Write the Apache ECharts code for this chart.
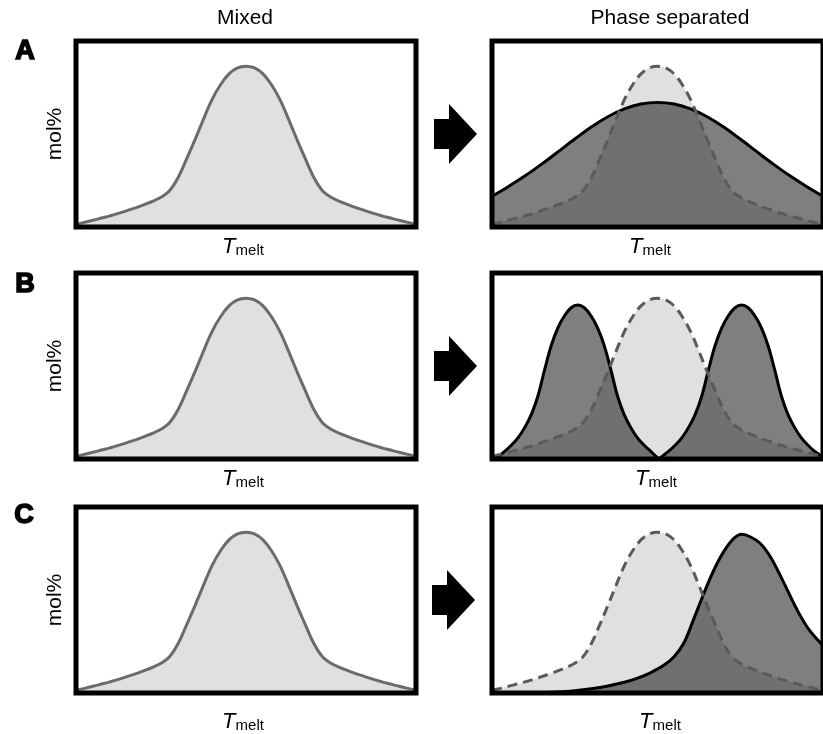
<!DOCTYPE html>
<html><head><meta charset="utf-8">
<script src="https://cdn.jsdelivr.net/npm/echarts@6/dist/echarts.min.js"></script>
<style>html,body{margin:0;padding:0;background:#fff}#c{width:823px;height:734px}</style>
</head><body><div id="c"></div><script>
// ---- data (x and y in arbitrary panel units 0..100) ----
const colTitles = ['Mixed', 'Phase separated'];
const rowLabels = ['A', 'B', 'C'];
const yLabel = 'mol%';
const xLabelMain = 'T';
const xLabelSub = 'melt';

// single mixed distribution (also drawn dashed in right panels)
const mixedX = [0, 2.5, 5, 7.5, 10, 12.5, 15, 17.5, 20, 22.5, 25, 27.5, 30, 32.5, 35, 37.5, 40, 42.5, 45, 47.5, 50,
                52.5, 55, 57.5, 60, 62.5, 65, 67.5, 70, 72.5, 75, 77.5, 80, 82.5, 85, 87.5, 90, 92.5, 95, 97.5, 100];
const mixedY = [1.5, 2.5, 3.6, 4.8, 6, 7.3, 8.8, 10.3, 12, 13.8, 16, 19.5, 26.5, 36.5, 47, 58, 68.5, 76.5, 82.3, 85.5, 86.4,
                85.5, 82.3, 76.5, 68.5, 58, 47, 36.5, 26.5, 19.5, 16, 13.8, 12, 10.3, 8.8, 7.3, 6, 4.8, 3.6, 2.5, 1.5];

// A: one broad distribution
const broadX = [0, 5, 10, 15, 20, 25, 30, 35, 40, 45, 50, 55, 60, 65, 70, 75, 80, 85, 90, 95, 100];
const broadY = [16.5, 21.8, 27.5, 33.8, 40.5, 47.3, 53.8, 59.3, 63.5, 66.1, 66.9, 66.1, 63.5, 59.3, 53.8, 47.3, 40.5, 33.8, 27.5, 21.8, 16.5];

// B: two narrow distributions
const lowX = [0, 1.9, 3.9, 5.9, 7.9, 9.9, 11.9, 13.9, 15.9, 17.9, 19.9, 21.9, 23.9, 25.9, 27.9, 29.9, 31.9, 33.9, 35.9, 37.9, 39.9, 41.9, 43.9, 45.9, 47.9, 50.4];
const lowY = [0.8, 1.5, 4.2, 7.5, 11.5, 17, 24, 34, 48, 61, 70.5, 77, 81.3, 82.8, 81.3, 77, 70.5, 61, 48, 34, 24, 17, 11.5, 7.5, 4.2, 0];
const highX = [50.4, 53.4, 55.4, 57.4, 59.4, 61.4, 63.4, 65.4, 67.4, 69.4, 71.4, 73.4, 75.4, 77.4, 79.4, 81.4, 83.4, 85.4, 87.4, 89.4, 91.4, 93.4, 95.4, 97.4, 100];
const highY = [0, 4.2, 7.5, 11.5, 17, 24, 34, 48, 61, 70.5, 77, 81.3, 82.8, 81.3, 77, 70.5, 61, 48, 34, 24, 17, 11.5, 7.5, 4.2, 1.2];

// C: shifted distribution
const shiftX = [0, 10, 20, 25, 30, 35, 40, 44, 48, 52, 55, 58, 61, 64, 67, 70, 73, 75.5, 78, 81, 84, 87, 90, 93, 96, 100];
const shiftY = [0, 0.1, 0.5, 1.2, 2.3, 3.8, 5.8, 8, 11, 15, 19.5, 27, 40, 53.5, 66, 76, 83, 85.3, 84, 80.5, 73.5, 63.5, 52.5, 42, 33.5, 25.5];

const pairs = (xs, ys) => xs.map((x, i) => [x, ys[i]]);

// ---- layout ----
const tops = [41, 273, 507];
const lefts = [76, 492];
const W = 340, H = 186;
const LIGHT = '#e0e0e0', DARK = 'rgba(0,0,0,0.5)';
const FONT = '"Liberation Sans", Arial, Helvetica, sans-serif';
const SM = 0.35;

const grids = [], xAxes = [], yAxes = [], series = [], graphics = [];
let gi = 0;
function addGrid(left, top) {
  grids.push({ left: left, top: top, width: W, height: H, show: true, borderColor: '#000', borderWidth: 5, backgroundColor: 'transparent', z: 10 });
  xAxes.push({ type: 'value', gridIndex: gi, min: 0, max: 100, show: false });
  yAxes.push({ type: 'value', gridIndex: gi, min: 0, max: 100, show: false });
  return gi++;
}
function mixedSolid(g) {
  series.push({ type: 'line', xAxisIndex: g, yAxisIndex: g, data: pairs(mixedX, mixedY), smooth: SM, symbol: 'none',
    lineStyle: { color: '#6b6b6b', width: 3 }, areaStyle: { color: LIGHT, opacity: 1 }, z: 2 });
}
function mixedUnder(g) {
  series.push({ type: 'line', xAxisIndex: g, yAxisIndex: g, data: pairs(mixedX, mixedY), smooth: SM, symbol: 'none',
    lineStyle: { width: 0, opacity: 0 }, areaStyle: { color: LIGHT, opacity: 1 }, z: 2 });
}
function dark(g, xs, ys) {
  series.push({ type: 'line', xAxisIndex: g, yAxisIndex: g, data: pairs(xs, ys), smooth: SM, symbol: 'none',
    lineStyle: { color: '#000', width: 3 }, areaStyle: { color: DARK, opacity: 1 }, z: 3 });
}
function dashed(g) {
  series.push({ type: 'line', xAxisIndex: g, yAxisIndex: g, data: pairs(mixedX, mixedY), smooth: SM, symbol: 'none',
    lineStyle: { color: '#5a5a5a', width: 3, type: [10, 6] }, z: 4 });
}

for (let r = 0; r < 3; r++) {
  const gl = addGrid(lefts[0], tops[r]);
  mixedSolid(gl);
  const gr = addGrid(lefts[1], tops[r]);
  mixedUnder(gr);
  if (r === 0) dark(gr, broadX, broadY);
  if (r === 1) { dark(gr, lowX, lowY); dark(gr, highX, highY); }
  if (r === 2) dark(gr, shiftX, shiftY);
  dashed(gr);
}

// titles
graphics.push({ type: 'text', x: 245, y: 18, style: { text: colTitles[0], font: '21px ' + FONT, fill: '#000', align: 'center', verticalAlign: 'middle' } });
graphics.push({ type: 'text', x: 670, y: 18, style: { text: colTitles[1], font: '21px ' + FONT, fill: '#000', align: 'center', verticalAlign: 'middle' } });

const letterPos = [[25, 52], [25, 285], [24, 516]];
const arrowX = [434, 434, 432];
const tLabelY = [246, 478, 721];
const tLabelXL = [243, 243, 243];
const tLabelXR = [650, 656, 660];
for (let r = 0; r < 3; r++) {
  const cy = tops[r] + H / 2;
  graphics.push({ type: 'text', x: letterPos[r][0], y: letterPos[r][1], style: { text: rowLabels[r], font: 'bold 27px ' + FONT, fill: '#000', stroke: '#000', lineWidth: 1.6, align: 'center', verticalAlign: 'middle' } });
  graphics.push({ type: 'text', x: 55, y: cy, rotation: Math.PI / 2, style: { text: yLabel, font: '21px ' + FONT, fill: '#000', align: 'center', verticalAlign: 'middle' } });
  const ax = arrowX[r];
  graphics.push({ type: 'polygon', shape: { points: [[ax, cy - 15], [ax + 15, cy - 15], [ax + 15, cy - 30], [ax + 43, cy], [ax + 15, cy + 30], [ax + 15, cy + 15], [ax, cy + 15]] }, style: { fill: '#000' } });
  [tLabelXL[r], tLabelXR[r]].forEach(function (tx) {
    graphics.push({ type: 'text', x: tx, y: tLabelY[r], style: {
      text: '{t|' + xLabelMain + '}{s|' + xLabelSub + '}', align: 'center', verticalAlign: 'middle',
      rich: { t: { font: 'italic 22px ' + FONT, fill: '#000', lineHeight: 24, verticalAlign: 'bottom' },
              s: { font: '15px ' + FONT, fill: '#000', lineHeight: 10, verticalAlign: 'bottom' } } } });
  });
}

const chart = echarts.init(document.getElementById('c'), null, { renderer: 'canvas' });
chart.setOption({ animation: false, grid: grids, xAxis: xAxes, yAxis: yAxes, series: series, graphic: graphics });
</script></body></html>
